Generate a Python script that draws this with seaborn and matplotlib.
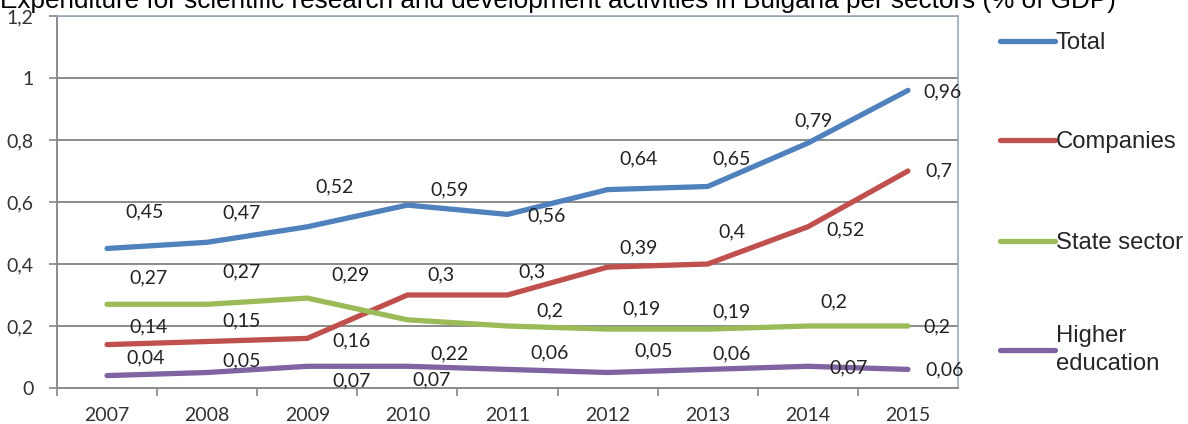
import matplotlib
matplotlib.use("Agg")
import matplotlib.pyplot as plt
import seaborn as sns
import pandas as pd
from matplotlib.ticker import FixedLocator

# ---- data ----
years = [2007, 2008, 2009, 2010, 2011, 2012, 2013, 2014, 2015]
total = [0.45, 0.47, 0.52, 0.59, 0.56, 0.64, 0.65, 0.79, 0.96]
companies = [0.14, 0.15, 0.16, 0.30, 0.30, 0.39, 0.40, 0.52, 0.70]
state_sector = [0.27, 0.27, 0.29, 0.22, 0.20, 0.19, 0.19, 0.20, 0.20]
higher_education = [0.04, 0.05, 0.07, 0.07, 0.06, 0.05, 0.06, 0.07, 0.06]
series_names = ["Total", "Companies", "State sector", "Higher education"]
legend_labels = ["Total", "Companies", "State sector", "Higher\neducation"]
y_ticks = [0, 0.2, 0.4, 0.6, 0.8, 1.0, 1.2]
y_tick_labels = ["0", "0,2", "0,4", "0,6", "0,8", "1", "1,2"]
title = "Expenditure for scientific research and development activities in Bulgaria per sectors (% of GDP)"

# ---- styles / label placement (pixels) ----
colors = ["#4F81BD", "#C0504D", "#9BBB59", "#8064A2"]
label_offsets = {
    "Total": [(38, 37), (34, 29), (27, 40), (42, 15), (39, -1), (31, 31), (24, 28), (6, 22), (35, -1)],
    "Companies": [(41, 18), (34, 21), (44, -2), (34, 20), (24, 23), (31, 19), (24, 32), (38, -3), (31, 0)],
    "State sector": [(41, 26), (34, 32), (43, 23), (42, -34), (42, 15), (34, 20), (24, 17), (26, 24), (29, -1)],
    "Higher education": [(39, 18), (34, 12), (44, -15), (24, -14), (42, 17), (46, 22), (24, 16), (41, -2), (37, 0)],
}

values = {"Total": total, "Companies": companies,
          "State sector": state_sector, "Higher education": higher_education}
rows = []
for name in series_names:
    for yr, v in zip(years, values[name]):
        rows.append({"year": yr, "value": v, "series": name})
df = pd.DataFrame(rows)

sns.set_theme(style="white")
plt.rcParams["font.family"] = ["Liberation Sans", "DejaVu Sans"]

W, H = 1188, 424
fig = plt.figure(figsize=(W / 100, H / 100), dpi=100)
ax = fig.add_axes([57 / W, 1 - 388 / H, (958 - 57) / W, (388 - 16) / H])

sns.lineplot(data=df, x="year", y="value", hue="series", hue_order=series_names,
             palette=colors, linewidth=3.8, ax=ax, legend=False, sort=False,
             solid_capstyle="round", solid_joinstyle="round")

ax.set_xlim(years[0] - 0.5, years[-1] + 0.5)
ax.set_ylim(0, 1.2)
ax.set_yticks(y_ticks)
ax.set_yticklabels(y_tick_labels)
ax.set_xticks(years)
ax.set_xticklabels([str(y) for y in years])
ax.xaxis.set_minor_locator(FixedLocator([y + 0.5 for y in years[:-1]] + [years[0] - 0.5]))
ax.tick_params(axis="x", which="major", length=0, pad=14, labelsize=14, labelcolor="#333333")
ax.tick_params(axis="x", which="minor", length=6, width=1.2, color="#888888", direction="out", bottom=True)
ax.tick_params(axis="y", which="major", length=6, width=1.2, color="#888888", direction="out",
               left=True, pad=11, labelsize=14, labelcolor="#333333")
for lbl in ax.get_xticklabels() + ax.get_yticklabels():
    lbl.set_family(["Lato", "DejaVu Sans"])

ax.set_xlabel("")
ax.set_ylabel("")
ax.grid(axis="y", color="#8c8c8c", linewidth=1.4)
ax.grid(axis="x", visible=False)
ax.set_axisbelow(True)
for s in ["left", "bottom"]:
    ax.spines[s].set_color("#8c8c8c")
    ax.spines[s].set_linewidth(1.4)
ax.spines["top"].set_color("#9aaabf")
ax.spines["top"].set_linewidth(1.2)
ax.spines["right"].set_color("#9aaabf")
ax.spines["right"].set_linewidth(1.2)

# data labels
for name in series_names:
    for yr, v, off in zip(years, values[name], label_offsets[name]):
        ax.annotate(f"{v:g}".replace(".", ","), xy=(yr, v), xytext=off,
                    textcoords="offset pixels", ha="center", va="center",
                    fontsize=14, color="#222222", family=["Lato", "DejaVu Sans"],
                    annotation_clip=False)

# legend entries
lines = ax.get_lines()
legend_y = [43, 142, 243, 350]
for line, lab, ly in zip(lines[:4], legend_labels, legend_y):
    leg = fig.legend(handles=[line], labels=[lab], loc="center left",
                     bbox_to_anchor=(1000 / W, 1 - ly / H), frameon=False,
                     handlelength=2.3, handletextpad=0.03, fontsize=17.2,
                     borderpad=0, borderaxespad=0)
    for t in leg.get_texts():
        t.set_linespacing(1.35)

fig.text(0.0, 1 - 8 / H, title, ha="left", va="baseline", fontsize=18.8, color="black")

fig.savefig("out.png", dpi=100)
